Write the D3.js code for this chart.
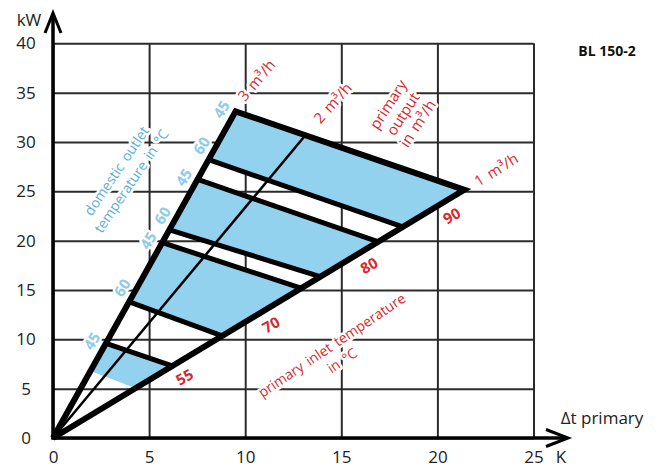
<!DOCTYPE html>
<html>
<script src='https://d3js.org/d3.v7.min.js'></script>
<style>
 body {margin:0; background:#fff;}
 text {font-family:'Open Sans', sans-serif;}
 .halo {paint-order:stroke; stroke:#fff; stroke-width:5px; stroke-linejoin:round; word-spacing:2px;}
</style>
<body onload='init()'>
<svg width=663 height=468>
</svg>
<script>

// axis ticks
const xTicks = [0, 5, 10, 15, 20, 25];
const yTicks = [0, 5, 10, 15, 20, 25, 30, 35, 40];

// primary inlet temperatures (one band each) and domestic outlet temperatures
const inletTemps = ['55', '70', '80', '90'];
const outletTemps = ['45', '60'];

// primary flow lines from the origin: label and end point [dt K, kW]
const flowRates = ['1 m³/h', '2 m³/h', '3 m³/h'];
const flowEnds = [[21.4, 25.15], [13.1, 30.6], [9.5, 33.1]];

// ends of the outlet-temperature lines, on the 3 m³/h line (left) and 1 m³/h line (right)
const left45  = [[2.76, 9.6], [5.69, 19.8], [7.53, 26.2], [9.5, 33.1]];
const right45 = [[6.2, 7.3], [12.9, 15.2], [16.9, 19.9], [21.4, 25.15]];
const left60  = [[1.95, 6.8], [3.97, 13.8], [6.06, 21.1], [8.1, 28.2]];
const right60 = [[4.3, 5.05], [8.8, 10.35], [13.9, 16.35], [18.2, 21.4]];
const drawn60 = [false, true, true, true];

function init() {

 var svg = d3.select('svg');
 var x = d3.scaleLinear().domain([0, 25]).range([53, 533.5]);
 var y = d3.scaleLinear().domain([0, 40]).range([438, 43.3]);
 var line = d3.line().x(d => x(d[0])).y(d => y(d[1]));
 var red = '#d7282f', blue = '#8ccbea', fill = '#93d2ee';

 // grid with tick labels
 var gx = svg.append('g')
  .attr('transform', 'translate(0,' + y(0) + ')')
  .call(d3.axisBottom(x).tickValues(xTicks).tickSize(y(40) - y(0)).tickPadding(13));
 var gy = svg.append('g')
  .attr('transform', 'translate(' + x(0) + ',0)')
  .call(d3.axisLeft(y).tickValues(yTicks).tickSize(x(0) - x(25)));
 gy.selectAll('text').attr('text-anchor', 'middle').attr('x', -27);
 [gx, gy].forEach(function (g) {
  g.select('.domain').remove();
  g.attr('font-family', null).attr('font-size', null);
  g.selectAll('line').attr('stroke', '#2b2b2b').attr('stroke-width', 2);
  g.selectAll('text').attr('fill', '#222').style('font-size', '17px');
 });

 // annotations (halo cuts the grid)
 var notes = svg.append('g');
 function note(cx, cy, angle, lines, size, color, weight, gap) {
  var t = notes.append('text')
   .attr('class', 'halo')
   .attr('transform', 'translate(' + cx + ',' + cy + ') rotate(' + angle + ')')
   .attr('text-anchor', 'middle')
   .style('font-size', size + 'px')
   .style('font-weight', weight)
   .attr('fill', color);
  lines.forEach(function (s, i) {
   t.append('tspan').attr('x', 0)
    .attr('y', (i - (lines.length - 1) / 2) * gap)
    .attr('dy', '0.35em').text(s);
  });
 }

 note(x(flowEnds[2][0]) + 21, y(flowEnds[2][1]) - 31, -50, [flowRates[2]], 15, red, 400, 0);
 note(x(flowEnds[1][0]) + 28, y(flowEnds[1][1]) - 33, -48, [flowRates[1]], 15, red, 400, 0);
 note(x(flowEnds[0][0]) + 32, y(flowEnds[0][1]) - 20, -32, [flowRates[0]], 15, red, 400, 0);
 note(403, 114, -57, ['primary', 'output', 'in m³/h'], 15, red, 400, 17.5);
 note(124, 176, -56, ['domestic outlet', 'temperature in °C'], 14, '#5aaedb', 400, 18);
 note(337, 353, -34, ['primary inlet temperature', 'in °C'], 14, red, 400, 18.5);

 left45.forEach(function (d) {
  note(x(d[0]) - 14, y(d[1]) - 2, -58, [outletTemps[0]], 15, blue, 700, 0);
 });
 left60.forEach(function (d, i) {
  if (drawn60[i]) note(x(d[0]) - 7, y(d[1]) - 14, -58, [outletTemps[1]], 15, blue, 700, 0);
 });
 right60.forEach(function (d, i) {
  note(x(d[0]) + 49, y(d[1]) - 11, -30, [inletTemps[i]], 15, red, 700, 0);
 });

 // blue bands
 svg.append('g').selectAll('path')
  .data(inletTemps)
  .enter()
   .append('path')
    .attr('d', (d, i) => line([left60[i], left45[i], right45[i], right60[i]]) + 'Z')
    .attr('fill', fill);

 // outlet temperature lines
 var cross = svg.append('g').attr('stroke', '#000').attr('stroke-width', 5).attr('fill', 'none');
 left45.forEach(function (d, i) {
  if (i < 3) cross.append('path').attr('d', line([d, right45[i]]));
 });
 left60.forEach(function (d, i) {
  if (drawn60[i]) cross.append('path').attr('d', line([d, right60[i]]));
 });

 // flow lines: 2 m³/h thin, outer triangle thick
 svg.append('path')
  .attr('d', line([[0, 0], flowEnds[1]]))
  .attr('stroke', '#000').attr('stroke-width', 2.5).attr('fill', 'none');
 svg.append('path')
  .attr('d', line([[0, 0], flowEnds[2], flowEnds[0], [0, 0]]))
  .attr('stroke', '#000').attr('stroke-width', 6).attr('fill', 'none')
  .attr('stroke-linejoin', 'miter');

 // axes with arrows
 var ax = svg.append('g').attr('stroke', '#000').attr('fill', 'none').attr('stroke-width', 3.5);
 ax.append('path').attr('d', 'M' + x(0) + ',' + (y(0) + 1.5) + 'V14');
 ax.append('path').attr('d', 'M' + (x(0) - 8) + ',33L' + x(0) + ',13L' + (x(0) + 8) + ',33')
  .attr('stroke-width', 3);
 ax.append('path').attr('d', 'M' + (x(0) - 1.5) + ',' + y(0) + 'H567');
 ax.append('path').attr('d', 'M546,' + (y(0) - 8.5) + 'L568,' + y(0) + 'L546,' + (y(0) + 8.5))
  .attr('stroke', '#000').attr('stroke-width', 3);

 var tx = svg.append('g').attr('fill', '#222').style('font-size', '17px').attr('text-anchor', 'middle');
 tx.append('text').attr('x', 29).attr('y', 20).attr('dy', '0.35em').text('kW');
 tx.append('text').attr('x', 602).attr('y', 418).attr('dy', '0.35em').text('Δt primary');
 tx.append('text').attr('x', 561).attr('y', 457).attr('dy', '0.35em').text('K');
 tx.append('text').attr('x', 607).attr('y', 51).attr('dy', '0.35em')
  .style('font-size', '14px').style('font-weight', 700).attr('fill', '#111').text('BL 150-2');
}

</script>
</body>
</html>
